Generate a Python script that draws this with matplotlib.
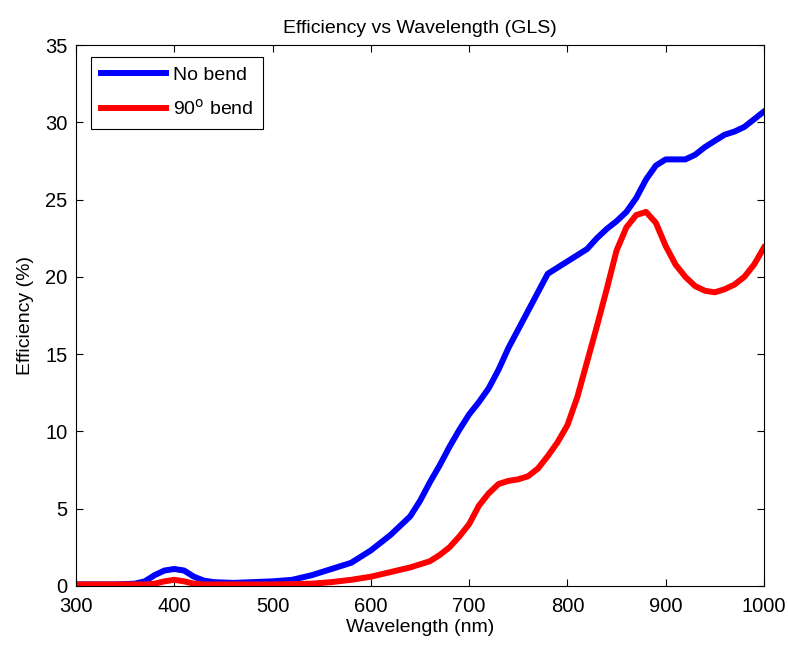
import matplotlib
matplotlib.use("Agg")
import matplotlib.pyplot as plt
import numpy as np

plt.rcParams['font.family'] = ['Liberation Sans', 'DejaVu Sans']

wavelength = [300, 320, 340, 360, 370, 380, 390, 400, 410, 420, 430, 440, 460, 480, 500, 520, 540,
              560, 580, 600, 620, 640, 650, 660, 670, 680, 690, 700, 710, 720, 730, 740, 750, 760,
              770, 780, 790, 800, 810, 820, 830, 840, 850, 860, 870, 880, 890, 900, 910, 920, 930,
              940, 950, 960, 970, 980, 990, 1000]

no_bend = [0.1, 0.1, 0.1, 0.15, 0.3, 0.7, 1.0, 1.1, 1.0, 0.6, 0.35, 0.25, 0.2, 0.25, 0.3, 0.4, 0.7,
           1.1, 1.5, 2.3, 3.3, 4.5, 5.5, 6.7, 7.8, 9.0, 10.1, 11.1, 11.9, 12.8, 14.0, 15.4, 16.6, 17.8,
           19.0, 20.2, 20.6, 21.0, 21.4, 21.8, 22.5, 23.1, 23.6, 24.2, 25.1, 26.3, 27.2, 27.6, 27.6, 27.6, 27.9,
           28.4, 28.8, 29.2, 29.4, 29.7, 30.2, 30.7]

bend_90 = [0.1, 0.1, 0.1, 0.1, 0.1, 0.15, 0.3, 0.4, 0.3, 0.15, 0.1, 0.1, 0.1, 0.1, 0.1, 0.12, 0.15,
           0.25, 0.4, 0.6, 0.9, 1.2, 1.4, 1.6, 2.0, 2.5, 3.2, 4.0, 5.2, 6.0, 6.6, 6.8, 6.9, 7.1,
           7.6, 8.4, 9.3, 10.4, 12.2, 14.5, 16.8, 19.2, 21.7, 23.2, 24.0, 24.2, 23.5, 22.0, 20.8, 20.0, 19.4,
           19.1, 19.0, 19.2, 19.5, 20.0, 20.8, 21.9]

fig = plt.figure(figsize=(7.88, 6.46), dpi=100)
ax = fig.add_axes([0.0964, 0.0929, 0.9695 - 0.0964, 0.9303 - 0.0929])

ax.plot(wavelength, no_bend, color='#0000ff', linewidth=4.3, label='No bend')
ax.plot(wavelength, bend_90, color='#ff0000', linewidth=4.3, label='90$^{\\mathrm{o}}$ bend')

ax.set_xlim(300, 1000)
ax.set_ylim(0, 35)
ax.set_xticks(np.arange(300, 1001, 100))
ax.set_yticks(np.arange(0, 36, 5))
ax.tick_params(direction='in', top=True, right=True, labelsize=14.5, length=5, width=0.8)
ax.tick_params(axis='x', pad=8)
ax.tick_params(axis='y', pad=6)
for s in ax.spines.values():
    s.set_linewidth(0.8)

ax.set_title('Efficiency vs Wavelength (GLS)', fontsize=14, pad=9)
ax.set_xlabel('Wavelength (nm)', fontsize=14, labelpad=2)
ax.set_ylabel('Efficiency (%)', fontsize=14, labelpad=8)

leg = ax.legend(loc='upper left', bbox_to_anchor=(0.0218, 0.978), borderaxespad=0,
                fancybox=False, edgecolor='black', framealpha=1, fontsize=14,
                handlelength=3.35, handletextpad=0.35, borderpad=0.5, labelspacing=0.75)
leg.get_frame().set_linewidth(0.8)

fig.savefig('out.png', dpi=100)
